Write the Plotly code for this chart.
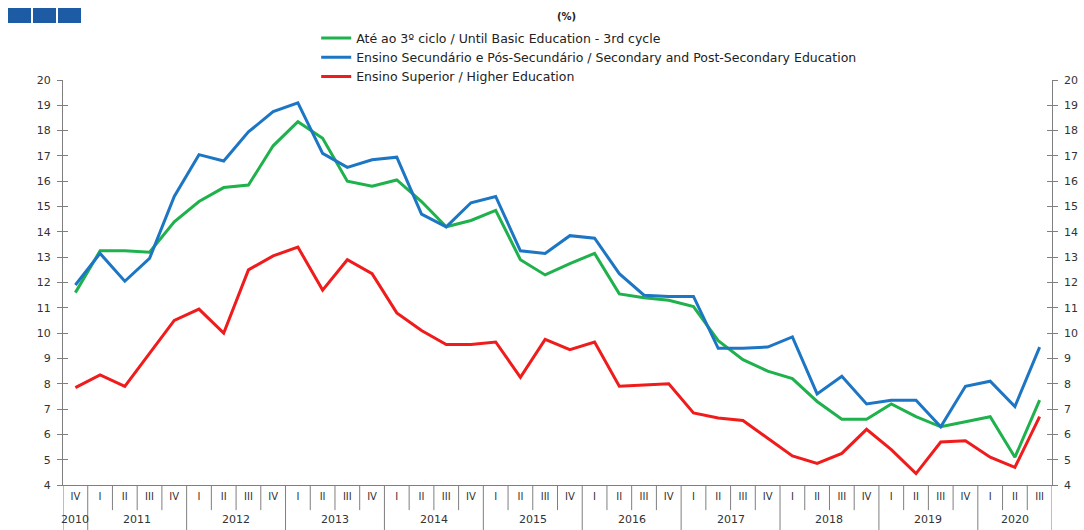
import plotly.graph_objects as go

# trimestres 2010 IV .. 2020 III
anos = ["2010",
        "2011", "2011", "2011", "2011",
        "2012", "2012", "2012", "2012",
        "2013", "2013", "2013", "2013",
        "2014", "2014", "2014", "2014",
        "2015", "2015", "2015", "2015",
        "2016", "2016", "2016", "2016",
        "2017", "2017", "2017", "2017",
        "2018", "2018", "2018", "2018",
        "2019", "2019", "2019", "2019",
        "2020", "2020", "2020"]
trimestres = ["IV",
              "I", "II", "III", "IV",
              "I", "II", "III", "IV",
              "I", "II", "III", "IV",
              "I", "II", "III", "IV",
              "I", "II", "III", "IV",
              "I", "II", "III", "IV",
              "I", "II", "III", "IV",
              "I", "II", "III", "IV",
              "I", "II", "III", "IV",
              "I", "II", "III"]

basico = [11.6, 13.25, 13.25, 13.2, 14.4, 15.2, 15.75, 15.85, 17.4, 18.35,
          17.7, 16.0, 15.8, 16.05, 15.2, 14.2, 14.45, 14.85, 12.9, 12.3,
          12.75, 13.15, 11.55, 11.4, 11.3, 11.05, 9.7, 8.95, 8.5, 8.2,
          7.3, 6.6, 6.6, 7.2, 6.7, 6.3, 6.5, 6.7, 5.1, 7.35]
secundario = [11.9, 13.15, 12.05, 12.95, 15.4, 17.05, 16.8, 17.95, 18.75, 19.1,
              17.1, 16.55, 16.85, 16.95, 14.7, 14.2, 15.15, 15.4, 13.25, 13.15,
              13.85, 13.75, 12.35, 11.5, 11.45, 11.45, 9.4, 9.4, 9.45, 9.85,
              7.6, 8.3, 7.2, 7.35, 7.35, 6.3, 7.9, 8.1, 7.1, 9.45]
superior = [7.85, 8.35, 7.9, 9.2, 10.5, 10.95, 10.0, 12.5, 13.05, 13.4,
            11.7, 12.9, 12.35, 10.8, 10.1, 9.55, 9.55, 9.65, 8.25, 9.75,
            9.35, 9.65, 7.9, 7.95, 8.0, 6.85, 6.65, 6.55, 5.85, 5.15,
            4.85, 5.25, 6.2, 5.4, 4.45, 5.7, 5.75, 5.1, 4.7, 6.7]

nomes = ["Até ao 3º ciclo / Until Basic Education - 3rd cycle",
         "Ensino Secundário e Pós-Secundário / Secondary and Post-Secondary Education",
         "Ensino Superior / Higher Education"]
cores = ["#1fb14c", "#1c76c3", "#f01b1b"]

n = len(trimestres)
idx = list(range(n))

fig = go.Figure()
for nome, vals, cor in zip(nomes, [basico, secundario, superior], cores):
    fig.add_trace(go.Scatter(x=idx, y=vals, name=nome, mode="lines",
                             line=dict(color=cor, width=3)))
# eixo da direita
fig.add_trace(go.Scatter(x=idx, y=superior, yaxis="y2", mode="lines",
                         line=dict(width=0), showlegend=False, hoverinfo="skip"))

eixo = "#7f7f7f"
fig.update_layout(
    width=1084, height=530,
    margin=dict(l=63, r=32, t=80, b=45, autoexpand=False),
    paper_bgcolor="white", plot_bgcolor="white",
    font=dict(family="DejaVu Sans", size=11, color="#333333"),
    showlegend=True,
    legend=dict(x=0.256, y=1.14, xanchor="left", yanchor="top",
                font=dict(size=12.5, color="#222222"), tracegroupgap=0,
                bgcolor="rgba(0,0,0,0)"),
    xaxis=dict(range=[-0.5, n - 0.5], tickmode="array", tickvals=idx,
               ticktext=trimestres, ticks="", showline=True, linecolor=eixo,
               showgrid=False, zeroline=False, tickfont=dict(size=10),
               ticklabelstandoff=2),
    yaxis=dict(range=[4, 20], dtick=1, showline=True, linecolor=eixo,
               ticks="outside", ticklen=5, tickcolor=eixo, mirror="ticks",
               showgrid=False, zeroline=False, ticklabelstandoff=4),
    yaxis2=dict(range=[4, 20], dtick=1, overlaying="y", side="right",
                showline=False, ticks="inside", ticklen=5, tickcolor=eixo,
                mirror="ticks", showgrid=False, zeroline=False,
                ticklabelstandoff=11),
)

# separadores dos trimestres e dos anos
for i in range(n + 1):
    novo_ano = i == 0 or i == n or anos[i] != anos[i - 1]
    fig.add_shape(type="line", xref="x", yref="paper",
                  x0=i - 0.5, x1=i - 0.5, y0=0, y1=-0.111 if novo_ano else -0.062,
                  line=dict(color=eixo, width=1))

# rótulos dos anos
for ano in dict.fromkeys(anos):
    pos = [i for i in idx if anos[i] == ano]
    fig.add_annotation(text=ano, xref="x", yref="paper",
                       x=(pos[0] + pos[-1]) / 2, y=-0.086, yanchor="middle",
                       showarrow=False, font=dict(size=11, color="#333333"))

# logotipo
for k in range(3):
    fig.add_shape(type="rect", xref="paper", yref="paper",
                  x0=(8 + 25 * k - 63) / 989, x1=(31 + 25 * k - 63) / 989,
                  y0=1 + (80 - 8) / 405, y1=1 + (80 - 23) / 405,
                  fillcolor="#1d5ba5", line_width=0)

fig.add_annotation(text="<b>(%)</b>", xref="paper", yref="paper",
                   x=0.509, y=1.158, yanchor="middle", showarrow=False,
                   font=dict(size=10, color="#222222"))

fig.write_html("out.html", config={"displayModeBar": False},
               post_script="document.body.style.margin='0';")
